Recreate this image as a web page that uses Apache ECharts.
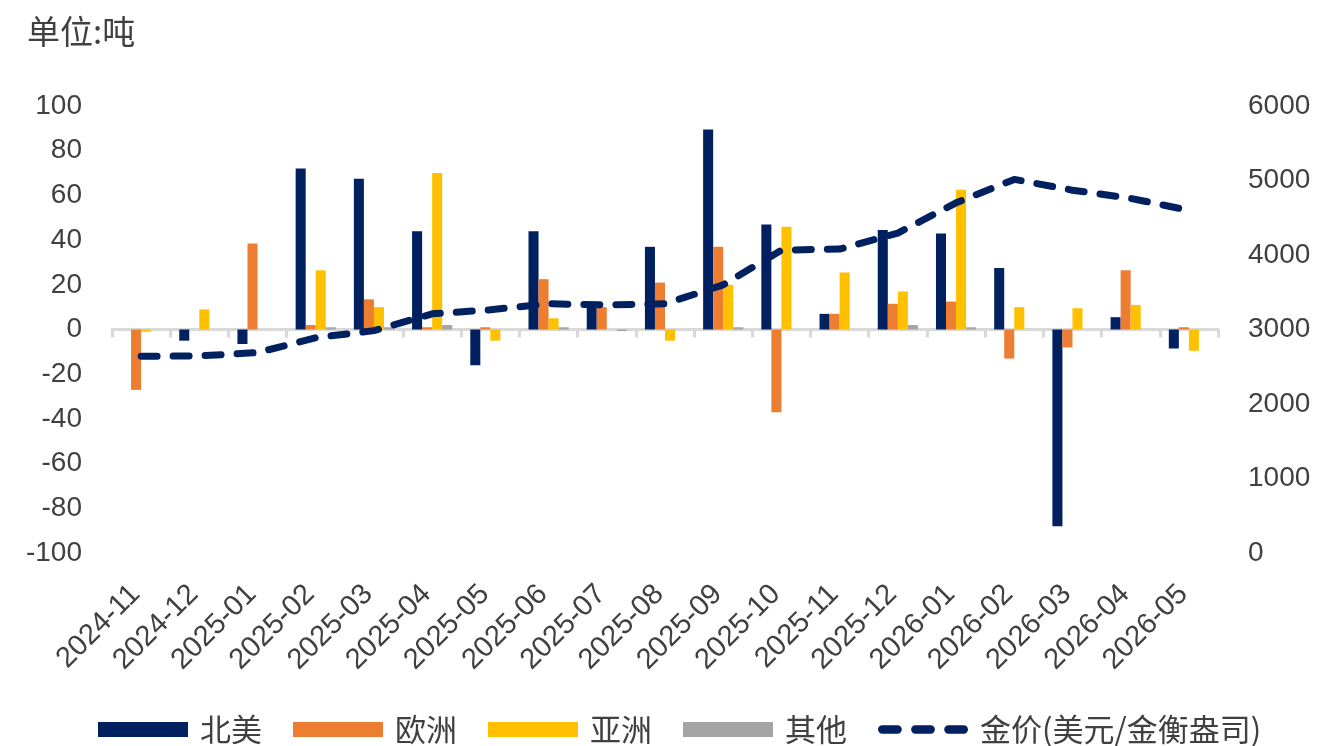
<!DOCTYPE html>
<html>
<head>
<meta charset="utf-8">
<script src="https://cdn.jsdelivr.net/npm/echarts@6/dist/echarts.min.js"></script>
<style>
  html, body { margin: 0; padding: 0; background: #ffffff; }
  #chart { width: 1322px; height: 746px; }
</style>
</head>
<body>
<div id="chart"></div>
<script>
// Monthly net flows by region (tonnes) and the gold price (USD/oz)
const months = ['2024-11', '2024-12', '2025-01', '2025-02', '2025-03', '2025-04', '2025-05',
  '2025-06', '2025-07', '2025-08', '2025-09', '2025-10', '2025-11', '2025-12',
  '2026-01', '2026-02', '2026-03', '2026-04', '2026-05'];
const northAmerica = [0, -5, -6.5, 72, 67.5, 44, -16, 44, 11, 37, 89.5, 47, 7, 44.5, 43, 27.5, -88, 5.5, -8.5];
const europe = [-27, 0, 38.5, 2, 13.5, 1, 1, 22.5, 10, 21, 37, -37, 7, 11.5, 12.5, -13, -8, 26.5, 1];
const asia = [-1, 9, 0, 26.5, 10, 70, -5, 5, 0, -5, 20, 46, 25.5, 17, 62.5, 10, 9.5, 11, -9.5];
const others = [0, 0, 0, 1, 1, 2, 0, 1, -0.7, 0, 1, 0, 0, 2, 1, 0, 0, 0, 0];
const goldPrice = [2640, 2645, 2690, 2890, 2985, 3210, 3265, 3345, 3330, 3345, 3600, 4065, 4080, 4295, 4700, 5015, 4870, 4760, 4600];

const leftTicks = { min: -100, max: 100, interval: 20 };
const rightTicks = { min: 0, max: 6000, interval: 1000 };

const NAVY = '#002060', ORANGE = '#ED7D31', YELLOW = '#FFC000', GREY = '#A5A5A5';
const TEXT = '#404040';
const FONT = '"Liberation Sans", "Noto Sans CJK SC", sans-serif';
const CJK = '"Noto Sans CJK SC", sans-serif';

// Legend marker for the price line: three rounded dashes
const capsule = x => `M${x + 4} 0 L${x + 19} 0 A4 4 0 0 1 ${x + 19} 8 L${x + 4} 8 A4 4 0 0 1 ${x + 4} 0 Z`;
const dashIcon = 'path://' + capsule(0) + ' ' + capsule(32) + ' ' + capsule(64);

const chart = echarts.init(document.getElementById('chart'), null, { renderer: 'canvas' });

const bar = (name, data, color) => ({
  name, type: 'bar', data, xAxisIndex: 0, yAxisIndex: 0,
  barGap: '0%', barCategoryGap: '31%',
  itemStyle: { color }
});

chart.setOption({
  animation: false,
  backgroundColor: '#ffffff',
  textStyle: { fontFamily: FONT },
  graphic: [{
    type: 'text', left: 27, top: 15,
    style: { text: '单位:吨', font: '33px ' + CJK, fill: TEXT }
  }],
  legend: {
    left: 98, top: 714, padding: 0,
    itemWidth: 90, itemHeight: 15, itemGap: 31,
    symbolKeepAspect: true,
    textStyle: { fontFamily: CJK, fontSize: 31, color: TEXT, padding: [0, 0, 0, 7] },
    data: [
      { name: '北美', icon: 'rect' },
      { name: '欧洲', icon: 'rect' },
      { name: '亚洲', icon: 'rect' },
      { name: '其他', icon: 'rect' },
      { name: '金价(美元/金衡盎司)', icon: dashIcon }
    ]
  },
  grid: { left: 112, right: 104, top: 106, bottom: 193 },
  xAxis: [{
    type: 'category', data: months,
    axisLine: { onZero: true, onZeroAxisIndex: 0, lineStyle: { color: '#D9D9D9', width: 3 } },
    axisTick: { show: true, length: 8, lineStyle: { color: '#D9D9D9', width: 3 } },
    axisLabel: { show: false },
    splitLine: { show: false }
  }, {
    type: 'category', data: months, position: 'bottom',
    axisLine: { show: false, onZero: false },
    axisTick: { show: false },
    axisLabel: { interval: 0, rotate: 45, margin: 31, padding: [0, 8, 0, 0], fontSize: 29, color: TEXT, fontFamily: FONT },
    splitLine: { show: false }
  }],
  yAxis: [{
    type: 'value', position: 'left', ...leftTicks,
    axisLine: { show: false }, axisTick: { show: false }, splitLine: { show: false },
    axisLabel: { margin: 30, fontSize: 28, color: TEXT, fontFamily: FONT }
  }, {
    type: 'value', position: 'right', ...rightTicks,
    axisLine: { show: false }, axisTick: { show: false }, splitLine: { show: false },
    axisLabel: { margin: 30, fontSize: 28, color: TEXT, fontFamily: FONT, formatter: v => String(v) }
  }],
  series: [
    bar('北美', northAmerica, NAVY),
    bar('欧洲', europe, ORANGE),
    bar('亚洲', asia, YELLOW),
    bar('其他', others, GREY),
    {
      name: '金价(美元/金衡盎司)', type: 'line', data: goldPrice,
      xAxisIndex: 0, yAxisIndex: 1, symbol: 'none', z: 5,
      lineStyle: { color: NAVY, width: 7, type: [16, 16], cap: 'round', join: 'round' },
      itemStyle: { color: NAVY }
    }
  ]
});
</script>
</body>
</html>
